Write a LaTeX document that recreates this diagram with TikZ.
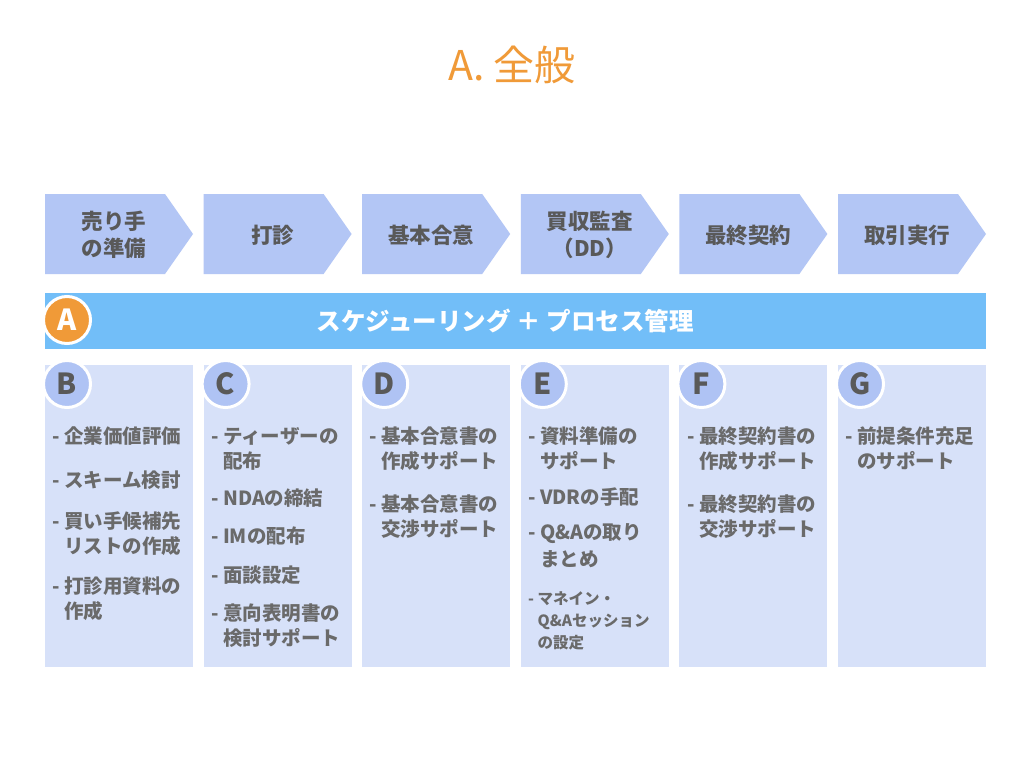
\documentclass[tikz,border=0pt]{standalone}
\usepackage{fontspec}
\setmainfont{Noto Sans CJK JP}
\usepackage{xcolor}
\usetikzlibrary{positioning}
\definecolor{stepblue}{HTML}{B3C6F5}
\definecolor{boxblue}{HTML}{D7E1F9}
\definecolor{dotblue}{HTML}{AFC3F4}
\definecolor{barblue}{HTML}{72BEF8}
\definecolor{accent}{HTML}{F09A38}
\definecolor{textgray}{HTML}{595959}
\newcommand{\ind}{\phantom{- }}

\begin{document}
\begin{tikzpicture}[x=1pt, y=-1pt,
    every node/.style={inner sep=0pt, text=textgray},
    stepnode/.style={align=center, font=\fontsize{21.5}{27}\selectfont\bfseries},
    badge/.style={circle, minimum size=47pt, draw=white, line width=3pt, fill=dotblue, font=\fontsize{29}{29}\selectfont\bfseries},
    itemlist/.style={anchor=north west, align=left, text=textgray!90, font=\fontsize{19.5}{25}\selectfont\bfseries}]

\useasboundingbox[fill=white] (0,0) rectangle (1024,768);

% Titolo
\node[text=accent, font=\fontsize{41}{41}\selectfont] (title) at (512,65) {A. 全般};

% Fasi
\foreach \i/\txt in {0/{売り手\\の準備}, 1/打診, 2/基本合意, 3/{買収監査\\（DD）}, 4/最終契約, 5/取引実行} {
  \fill[stepblue] (45+158.6*\i,194) -- ++(120,0) -- ++(28,40) -- ++(-28,40) -- ++(-120,0) -- cycle;
  \node[stepnode] (step\i) at (114+158.6*\i,235) {\txt};
}

% Barra
\fill[barblue] (45,293) rectangle (986,349);
\node[text=white, font=\fontsize{24.5}{24.5}\selectfont\bfseries] (bar) at (505,321) {スケジューリング ＋ プロセス管理};
\node[badge, fill=accent, text=white] (badgeA) at (67,320) {A};

% Box
\foreach \i/\l in {0/B, 1/C, 2/D, 3/E, 4/F, 5/G} {
  \fill[boxblue] (45+158.6*\i,365) rectangle ++(148,302);
  \node[badge] (badge\l) at (67+158.6*\i,384) {\l};
}

% Voci
\node[itemlist] (itemsB) at (52,427) {- 企業価値評価\\[19pt] - スキーム検討\\[16pt] - 買い手候補先\\ \ind リストの作成\\[15pt] - 打診用資料の\\ \ind 作成};
\node[itemlist] (itemsC) at (211,427) {- ティーザーの\\ \ind 配布\\[12pt] - NDAの締結\\[13pt] - IMの配布\\[14pt] - 面談設定\\[13pt] - 意向表明書の\\ \ind 検討サポート};
\node[itemlist] (itemsD) at (369,427) {- 基本合意書の\\ \ind 作成サポート\\[18pt] - 基本合意書の\\ \ind 交渉サポート};
\node[itemlist] (itemsE) at (528,427) {- 資料準備の\\ \ind サポート\\[11pt] - VDRの手配\\[10pt] - Q\&Aの取り\\[2pt] \ind まとめ};
\node[itemlist, font=\fontsize{15.5}{22}\selectfont\bfseries] (itemsE2) at (528,591) {- マネイン・\\ \ind Q\&Aセッション\\ \ind の設定};
\node[itemlist] (itemsF) at (687,427) {- 最終契約書の\\ \ind 作成サポート\\[18pt] - 最終契約書の\\ \ind 交渉サポート};
\node[itemlist] (itemsG) at (845,427) {- 前提条件充足\\ \ind のサポート};

\end{tikzpicture}
\end{document}
